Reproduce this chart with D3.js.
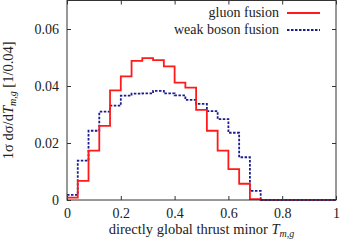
<!DOCTYPE html>
<html>
<head>
<meta charset="utf-8">
<script src="https://cdn.jsdelivr.net/npm/d3@7"></script>
<style>
  body { margin: 0; background: #fff; }
  text { font-family: "Liberation Serif", "DejaVu Serif", serif; fill: #222; }
</style>
</head>
<body>
<script>
// bin edges: 25 bins of width 0.04 from 0 to 1
const binEdges = d3.range(0, 25).map(i => +(i * 0.04).toFixed(2));

// gluon fusion (red, solid)
const gluonFusion = [0.0008, 0.0067, 0.0173, 0.0260, 0.0385, 0.0434, 0.0488, 0.0498, 0.0491,
  0.0469, 0.0412, 0.0394, 0.0316, 0.0243, 0.0173, 0.0108, 0.0057, 0.0003, 0, 0, 0, 0, 0, 0, 0];

// weak boson fusion (blue, dotted)
const weakBosonFusion = [0.0018, 0.0138, 0.0243, 0.0310, 0.0331, 0.0366, 0.0373, 0.0374, 0.0383,
  0.0374, 0.0367, 0.0351, 0.0337, 0.0312, 0.0284, 0.0236, 0.0150, 0.0032, 0, 0, 0, 0, 0, 0, 0];

const xTicks = [0, 0.2, 0.4, 0.6, 0.8, 1];
const xTickLabels = ["0", "0.2", "0.4", "0.6", "0.8", "1"];
const yTicks = [0, 0.02, 0.04, 0.06];
const yTickLabels = ["0", "0.02", "0.04", "0.06"];

const [w, h] = [341, 240];
const margin = {left: 67, right: 5, top: 0.5, bottom: 40};
const fs = 14;

const svg = d3.select("body").append("svg")
    .attr("width", w)
    .attr("height", h);

const x = d3.scaleLinear().domain([0, 1]).range([margin.left, w - margin.right]);
const y = d3.scaleLinear().domain([0, 0.07]).range([h - margin.bottom, margin.top]);

//ejes
const xAxis = d3.axisBottom(x).tickValues(xTicks).tickFormat((d, i) => xTickLabels[i])
    .tickSizeInner(-4).tickSizeOuter(0).tickPadding(8);
const yAxis = d3.axisLeft(y).tickValues(yTicks).tickFormat((d, i) => yTickLabels[i])
    .tickSizeInner(-4).tickSizeOuter(0).tickPadding(8);

function styleAxis(g) {
    g.select(".domain").remove();
    g.selectAll("line").attr("stroke", "#333");
    g.selectAll("text").attr("font-size", fs).attr("font-family", null).attr("fill", "#222");
}

svg.append("g").attr("transform", `translate(0,${y(0)})`).call(xAxis).call(styleAxis);
svg.append("g").attr("transform", `translate(${x(0)},0)`).call(yAxis).call(styleAxis);
// top and right ticks without labels
svg.append("g").attr("transform", `translate(0,${y(0.07)})`)
    .call(d3.axisTop(x).tickValues(xTicks).tickFormat("").tickSizeInner(-4).tickSizeOuter(0)).call(styleAxis);
svg.append("g").attr("transform", `translate(${x(1)},0)`)
    .call(d3.axisRight(y).tickValues(yTicks).tickFormat("").tickSizeInner(-4).tickSizeOuter(0)).call(styleAxis);

//histogramas
const line = d3.line()
    .x(d => x(d[0]))
    .y(d => y(d[1]))
    .curve(d3.curveStepAfter);

function steps(vals) {
    const pts = binEdges.map((e, i) => [e, vals[i]]);
    pts.push([1, vals[vals.length - 1]]);
    return pts;
}

svg.append("path")
    .datum(steps(weakBosonFusion))
    .attr("d", line)
    .attr("fill", "none")
    .attr("stroke", "#1c1c90")
    .attr("stroke-width", 1.8)
    .attr("stroke-dasharray", "2.5,1.5");

svg.append("path")
    .datum(steps(gluonFusion))
    .attr("d", line)
    .attr("fill", "none")
    .attr("stroke", "#ff1a1a")
    .attr("stroke-width", 1.8);

// blue again on top where both lie on zero
svg.append("path")
    .datum(steps(weakBosonFusion).filter(d => d[0] >= 0.72))
    .attr("d", line)
    .attr("fill", "none")
    .attr("stroke", "#1c1c90")
    .attr("stroke-width", 1.8)
    .attr("stroke-dasharray", "2.5,1.5");

// marco
svg.append("rect")
    .attr("x", x(0)).attr("y", y(0.07))
    .attr("width", x(1) - x(0)).attr("height", y(0) - y(0.07))
    .attr("fill", "none").attr("stroke", "#333").attr("stroke-width", 1);

// leyenda
const legend = [
    {label: "gluon fusion", color: "#ff1a1a", dash: null, y: 13},
    {label: "weak boson fusion", color: "#1c1c90", dash: "2.5,1.5", y: 30}
];
const lg = svg.append("g");
legend.forEach(d => {
    lg.append("text").attr("x", 279).attr("y", d.y + 4).attr("text-anchor", "end")
        .attr("font-size", fs).text(d.label);
    lg.append("line").attr("x1", 287).attr("x2", 320).attr("y1", d.y).attr("y2", d.y)
        .attr("stroke", d.color).attr("stroke-width", 1.8)
        .attr("stroke-dasharray", d.dash);
});

// etiqueta eje x
const xl = svg.append("text")
    .attr("x", (x(0) + x(1)) / 2).attr("y", 234)
    .attr("text-anchor", "middle").attr("font-size", 14.5);
xl.append("tspan").text("directly global thrust minor ");
xl.append("tspan").attr("font-style", "italic").text("T");
xl.append("tspan").attr("font-style", "italic").attr("font-size", 10).attr("dy", 3).text("m,g");

// etiqueta eje y
const yl = svg.append("text")
    .attr("transform", `translate(12.5,${(y(0) + y(0.07)) / 2}) rotate(-90)`)
    .attr("text-anchor", "middle").attr("font-size", 14.5);
yl.append("tspan").text("1σ dσ/d");
yl.append("tspan").attr("font-style", "italic").text("T");
yl.append("tspan").attr("font-style", "italic").attr("font-size", 10).attr("dy", 3).text("m,g");
yl.append("tspan").attr("dy", -3).text(" [1/0.04]");
</script>
</body>
</html>
